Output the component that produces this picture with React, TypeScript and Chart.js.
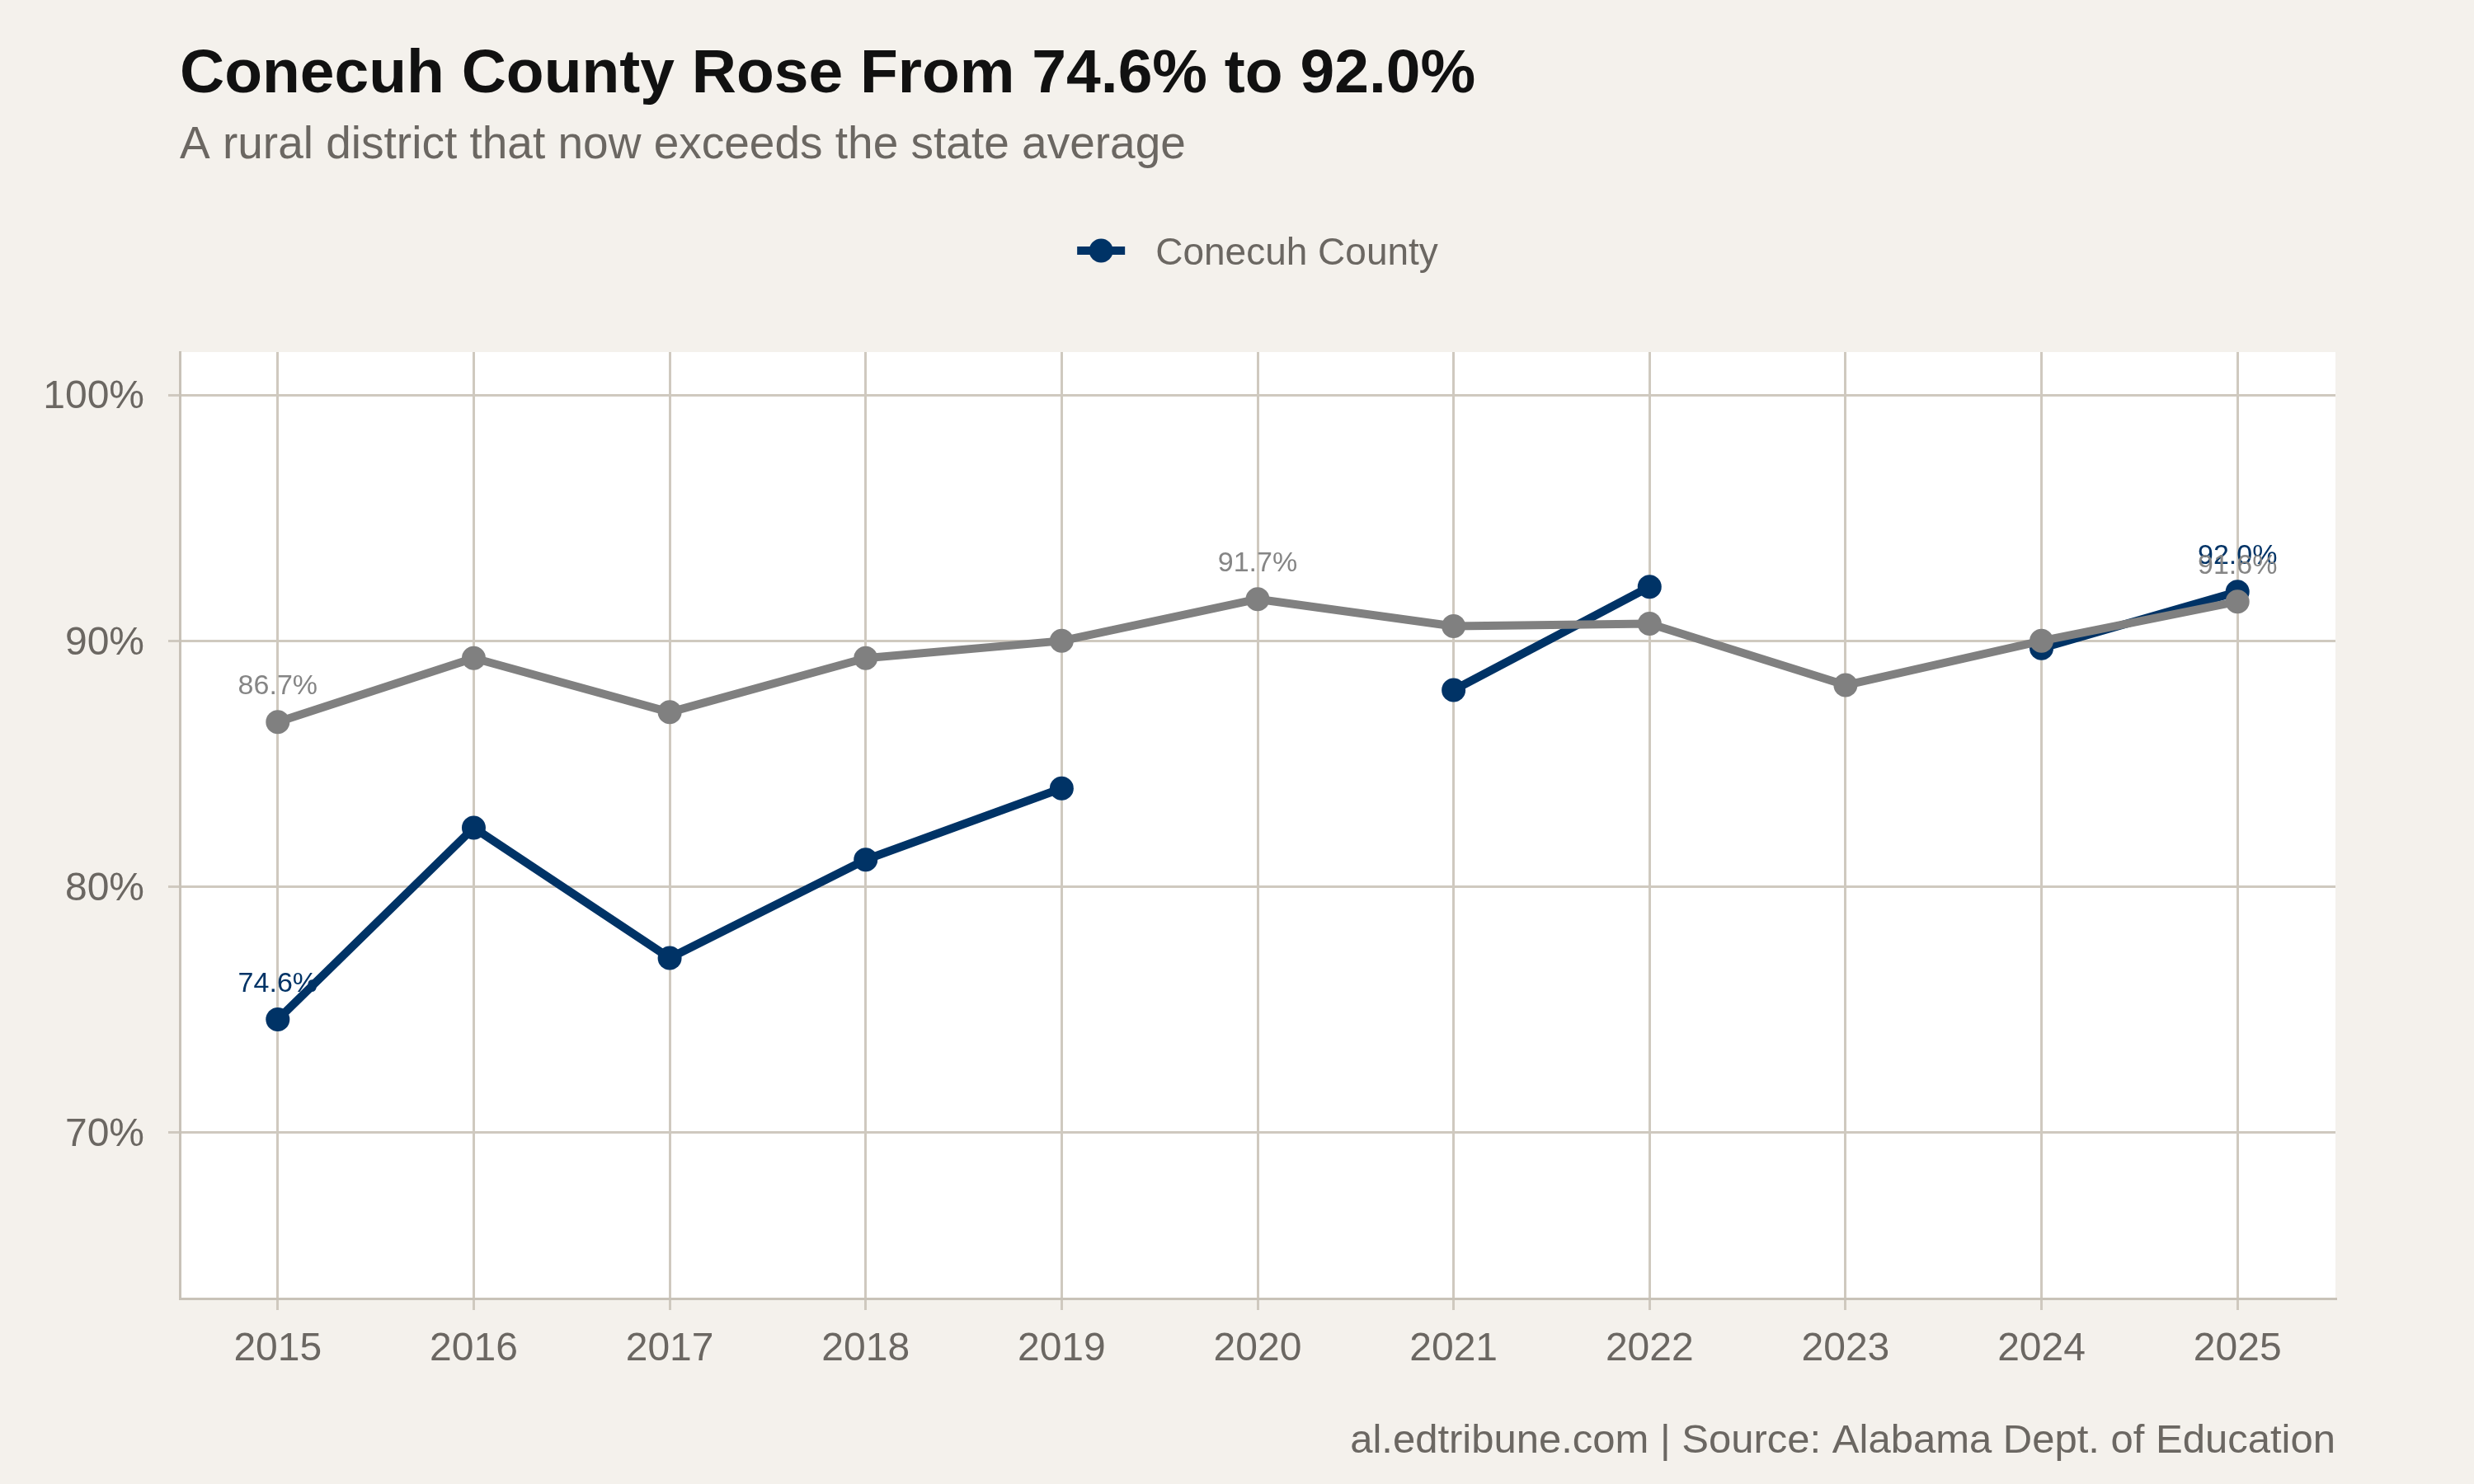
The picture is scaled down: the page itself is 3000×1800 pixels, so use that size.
import React, { useEffect, useRef } from "react";
import { Chart, registerables } from "chart.js";

Chart.register(...registerables);

// Graduation rate by school year
const years = ["2015", "2016", "2017", "2018", "2019", "2020", "2021", "2022", "2023", "2024", "2025"];
const conecuhRate = [74.6, 82.4, 77.1, 81.1, 84.0, null, 88.0, 92.2, null, 89.7, 92.0];
const stateRate = [86.7, 89.3, 87.1, 89.3, 90.0, 91.7, 90.6, 90.7, 88.2, 90.0, 91.6];

// Points that carry a value label
const conecuhLabelled = [0, 10];
const stateLabelled = [0, 5, 10];

const yTicks = [70, 80, 90, 100];
const yMin = 63.25;
const yMax = 101.75;

const titleText = "Conecuh County Rose From 74.6% to 92.0%";
const subtitleText = "A rural district that now exceeds the state average";
const captionText = "al.edtribune.com | Source: Alabama Dept. of Education";
const legendText = "Conecuh County";

const NAVY = "#003366";
const GREY = "#808080";
const PAGE_BG = "#F4F1EC";
const GRID = "#CFC9BF";
const AXIS = "#C8C2B8";
const MUTED = "#6B6762";
const FONT = "'Liberation Sans', Arial, Helvetica, sans-serif";

const decorPlugin = {
  id: "decor",
  beforeDraw(chart: any) {
    const { ctx, chartArea, width, height } = chart;
    ctx.save();
    ctx.fillStyle = PAGE_BG;
    ctx.fillRect(0, 0, width, height);
    ctx.fillStyle = "#FFFFFF";
    ctx.fillRect(chartArea.left, chartArea.top, chartArea.right - chartArea.left, chartArea.bottom - chartArea.top);
    ctx.restore();
  },
  afterDatasetsDraw(chart: any) {
    const { ctx } = chart;
    ctx.save();
    ctx.font = `34px ${FONT}`;
    ctx.textAlign = "center";
    ctx.textBaseline = "alphabetic";
    const drawLabels = (datasetIndex: number, idx: number[], color: string) => {
      const meta = chart.getDatasetMeta(datasetIndex);
      const data = chart.data.datasets[datasetIndex].data;
      ctx.fillStyle = color;
      idx.forEach((i) => {
        const pt = meta.data[i];
        const v = data[i];
        if (pt && v != null) ctx.fillText(`${v.toFixed(1)}%`, pt.x, pt.y - 34);
      });
    };
    drawLabels(0, conecuhLabelled, NAVY);
    drawLabels(1, stateLabelled, "#858585");
    ctx.restore();
  },
  afterDraw(chart: any) {
    const { ctx, chartArea } = chart;
    ctx.save();
    // title and subtitle
    ctx.textAlign = "left";
    ctx.textBaseline = "alphabetic";
    ctx.fillStyle = "#111111";
    ctx.font = `bold 75px ${FONT}`;
    ctx.fillText(titleText, chartArea.left, 112);
    ctx.fillStyle = MUTED;
    ctx.font = `55px ${FONT}`;
    ctx.fillText(subtitleText, chartArea.left, 192);

    // legend: line-and-point key centred over the panel
    ctx.font = `46px ${FONT}`;
    const textW = ctx.measureText(legendText).width;
    const keyW = 58;
    const gap = 37;
    const total = keyW + gap + textW;
    const cx = (chartArea.left + chartArea.right) / 2;
    const x0 = cx - total / 2;
    const ky = 304;
    ctx.strokeStyle = NAVY;
    ctx.lineWidth = 10;
    ctx.beginPath();
    ctx.moveTo(x0, ky);
    ctx.lineTo(x0 + keyW, ky);
    ctx.stroke();
    ctx.fillStyle = NAVY;
    ctx.beginPath();
    ctx.arc(x0 + keyW / 2, ky, 14.5, 0, Math.PI * 2);
    ctx.fill();
    ctx.fillStyle = MUTED;
    ctx.fillText(legendText, x0 + keyW + gap, 321);

    // caption
    ctx.textAlign = "right";
    ctx.font = `49px ${FONT}`;
    ctx.fillText(captionText, chartArea.right, 1762);
    ctx.restore();
  },
};

export default function App() {
  const canvasRef = useRef<HTMLCanvasElement | null>(null);

  useEffect(() => {
    document.body.style.margin = "0";
    const canvas = canvasRef.current;
    if (!canvas) return;
    const chart = new Chart(canvas, {
      type: "line",
      data: {
        labels: years,
        datasets: [
          {
            label: "Conecuh County",
            data: conecuhRate,
            borderColor: NAVY,
            backgroundColor: NAVY,
            borderWidth: 10,
            pointRadius: 14.5,
            pointBorderWidth: 0,
            pointBackgroundColor: NAVY,
            spanGaps: false,
            order: 1,
          },
          {
            label: "State Average",
            data: stateRate,
            borderColor: GREY,
            backgroundColor: GREY,
            borderWidth: 10,
            pointRadius: 14.5,
            pointBorderWidth: 0,
            pointBackgroundColor: GREY,
            order: 0,
          },
        ],
      },
      options: {
        responsive: false,
        animation: false,
        devicePixelRatio: 1,
        layout: { padding: { top: 427, right: 168, bottom: 0, left: 0 } },
        plugins: {
          legend: { display: false },
          title: { display: false },
          tooltip: { enabled: false },
        },
        elements: { line: { tension: 0, borderCapStyle: "round", borderJoinStyle: "round" } },
        scales: {
          x: {
            type: "category",
            offset: true,
            grid: { color: GRID, lineWidth: 3, tickLength: 14, tickColor: GRID, offset: false },
            border: { display: true, color: AXIS, width: 3 },
            ticks: { color: MUTED, font: { family: FONT, size: 48 }, padding: 19, maxRotation: 0 },
            afterFit(scale: any) {
              scale.height = 225;
            },
          },
          y: {
            type: "linear",
            min: yMin,
            max: yMax,
            grid: { color: GRID, lineWidth: 3, tickLength: 14, tickColor: GRID },
            border: { display: true, color: AXIS, width: 3 },
            ticks: {
              color: MUTED,
              font: { family: FONT, size: 48 },
              padding: 29,
              labelOffset: 3,
              callback: (v: any) => `${v}%`,
            },
            afterBuildTicks(scale: any) {
              scale.ticks = yTicks.map((value) => ({ value }));
            },
            afterFit(scale: any) {
              scale.width = 218;
            },
          },
        },
      },
      plugins: [decorPlugin],
    });
    return () => chart.destroy();
  }, []);

  return (
    <div style={{ position: "absolute", left: 0, top: 0, width: 3000, height: 1800 }}>
      <canvas ref={canvasRef} width={3000} height={1800} style={{ width: 3000, height: 1800, display: "block" }} />
    </div>
  );
}
